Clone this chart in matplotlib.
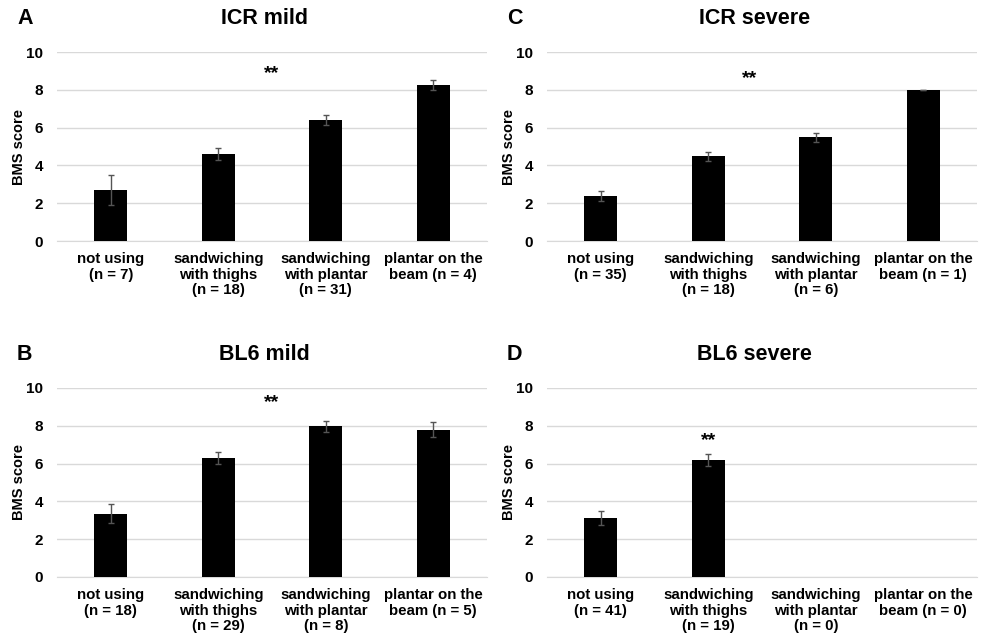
import numpy as np
import matplotlib
matplotlib.use("Agg")
import matplotlib.pyplot as plt

plt.rcParams['font.family'] = ['Liberation Sans', 'DejaVu Sans']
plt.rcParams['font.weight'] = 'bold'

# data
groups = ["not using", "sandwiching\nwith thighs", "sandwiching\nwith plantar", "plantar on the\nbeam"]

icr_mild_n = [7, 18, 31, 4]
icr_mild = [2.7, 4.6, 6.4, 8.25]
icr_mild_err = [0.8, 0.3, 0.28, 0.25]

icr_severe_n = [35, 18, 6, 1]
icr_severe = [2.38, 4.48, 5.48, 8.0]
icr_severe_err = [0.27, 0.25, 0.22, 0.0]

bl6_mild_n = [18, 29, 8, 5]
bl6_mild = [3.35, 6.32, 7.97, 7.8]
bl6_mild_err = [0.5, 0.32, 0.3, 0.38]

bl6_severe_n = [41, 19, 0, 0]
bl6_severe = [3.12, 6.17, np.nan, np.nan]
bl6_severe_err = [0.35, 0.32, np.nan, np.nan]

W, H = 984, 636
fig = plt.figure(figsize=(W / 100, H / 100), dpi=100)


def make_labels(ns):
    out = []
    for g, n in zip(groups, ns):
        if g.startswith("plantar"):
            out.append(g.replace("\nbeam", "\nbeam (n = %d)" % n))
        else:
            out.append("%s\n(n = %d)" % (g, n))
    return out


def panel(x0, y_top, letter, title, vals, errs, ns, star_x, star_y):
    # pixel box -> figure fraction
    y_bot = y_top + 189
    ax = fig.add_axes([x0 / W, 1 - y_bot / H, 430 / W, 189 / H])
    x = np.arange(len(vals))
    ax.bar(x, vals, width=0.31, color='black', zorder=3)
    ax.errorbar(x, vals, yerr=errs, fmt='none', ecolor='#555555',
                elinewidth=1.0, capsize=2.5, capthick=1.0, zorder=4)
    ax.set_xlim(-0.5, 3.5)
    ax.set_ylim(0, 10)
    ax.set_yticks([0, 2, 4, 6, 8, 10])
    ax.yaxis.grid(True, color='#d9d9d9', linewidth=1.0, zorder=0)
    for s in ['top', 'right', 'left']:
        ax.spines[s].set_visible(False)
    ax.spines['bottom'].set_color('#d9d9d9')
    ax.tick_params(axis='both', length=0)
    ax.tick_params(axis='y', pad=10, labelsize=11)
    ax.tick_params(axis='x', pad=8)
    ax.set_xticks(x)
    ax.set_xticklabels(make_labels(ns), fontsize=10.8, fontweight='bold',
                       linespacing=1.15)
    ax.set_ylabel("BMS score", fontsize=10.5, fontweight='bold', labelpad=0)
    ax.text(star_x, star_y, "**", ha='center', va='center', fontsize=14,
            fontweight='bold')
    fig.text((x0 + 215) / W - 0.008, 1 - (y_top - 33) / H, title,
             ha='center', va='center', fontsize=15.5, fontweight='bold')
    fig.text((x0 - 40) / W, 1 - (y_top - 33) / H, letter,
             ha='left', va='center', fontsize=15.5, fontweight='bold')
    return ax


panel(57, 52, "A", "ICR mild", icr_mild, icr_mild_err, icr_mild_n, 1.5, 8.85)
panel(547, 52, "C", "ICR severe", icr_severe, icr_severe_err, icr_severe_n, 1.38, 8.6)
panel(57, 388, "B", "BL6 mild", bl6_mild, bl6_mild_err, bl6_mild_n, 1.5, 9.25)
panel(547, 388, "D", "BL6 severe", bl6_severe, bl6_severe_err, bl6_severe_n, 1.0, 7.2)

fig.savefig("out.png", dpi=100)
